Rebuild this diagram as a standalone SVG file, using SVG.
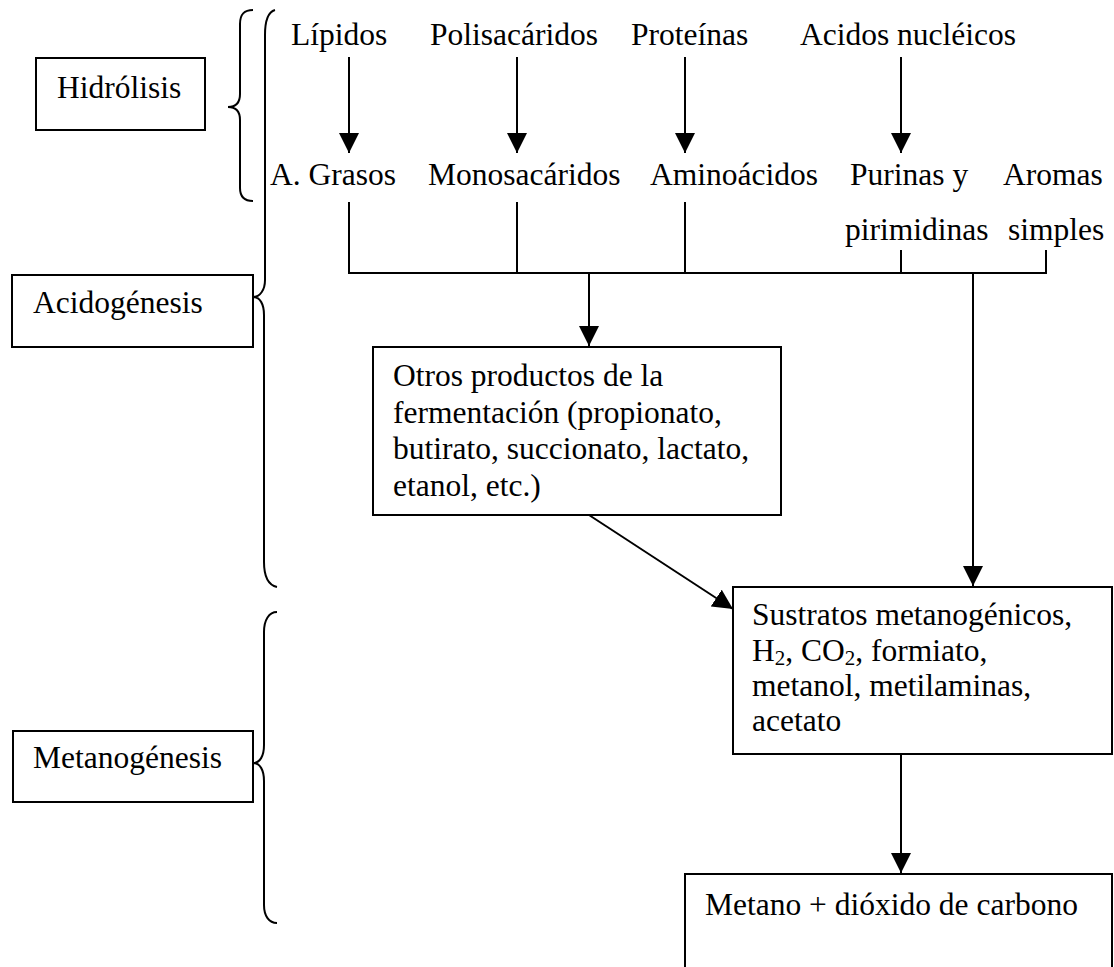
<svg xmlns="http://www.w3.org/2000/svg" width="1114" height="967" viewBox="0 0 1114 967">
  <defs>
    <marker id="arrow" viewBox="0 0 20 20" refX="20" refY="10" markerWidth="20" markerHeight="20" markerUnits="userSpaceOnUse" orient="auto">
      <path d="M0,0 L20,10 L0,20 Z" fill="#000"/>
    </marker>
    <style>
      text { font-family: "Liberation Serif", "Times New Roman", serif; font-size: 31.5px; fill: #000; }
      .box { fill: #fff; stroke: #000; stroke-width: 2; }
      .line { fill: none; stroke: #000; stroke-width: 2; }
      .arr { fill: none; stroke: #000; stroke-width: 2; marker-end: url(#arrow); }
      .brace { fill: none; stroke: #000; stroke-width: 2; }
      .sub { font-size: 21px; }
    </style>
  </defs>
  <rect width="1114" height="967" fill="#fff"/>

  <!-- stage labels and braces -->
  <g id="hidrolisis">
    <rect class="box" x="36" y="58" width="169" height="72"/>
    <text x="57" y="98">Hidrólisis</text>
    <path class="brace" d="M253,10 C244,10 240,14 240,24 L240,94 C240,103 236,107 228,107 C236,107 240,111 240,120 L240,188 C240,197 244,201 253,201"/>
  </g>
  <g id="acidogenesis">
    <rect class="box" x="12" y="275" width="241" height="72"/>
    <text x="33" y="313">Acidogénesis</text>
    <path class="brace" d="M275,10 C268,12 265,20 265,35 L265,280 C265,290 260,297 253,297 C260,297 264,304 264,315 L264,562 C264,577 268,585 277,587"/>
  </g>
  <g id="metanogenesis">
    <rect class="box" x="13" y="731" width="240" height="71"/>
    <text x="33" y="768">Metanogénesis</text>
    <path class="brace" d="M277,612 C269,612 264,620 264,632 L264,745 C264,756 260,763 253,763 C260,763 264,770 264,781 L264,905 C264,916 269,923 277,923"/>
  </g>

  <!-- polymers -->
  <g id="lipidos"><text x="291" y="45">Lípidos</text></g>
  <g id="polisacaridos"><text x="430" y="45">Polisacáridos</text></g>
  <g id="proteinas"><text x="631" y="45">Proteínas</text></g>
  <g id="acidos-nucleicos"><text x="800" y="45">Acidos nucléicos</text></g>

  <!-- monomers -->
  <g id="a-grasos"><text x="270" y="185">A. Grasos</text></g>
  <g id="monosacaridos"><text x="428" y="185">Monosacáridos</text></g>
  <g id="aminoacidos"><text x="650" y="185">Aminoácidos</text></g>
  <g id="purinas"><text x="850" y="185">Purinas y</text><text x="845" y="240">pirimidinas</text></g>
  <g id="aromas"><text x="1003" y="185">Aromas</text><text x="1008" y="240">simples</text></g>

  <!-- intermediate and final products -->
  <g id="otros-productos">
    <rect class="box" x="373" y="347" width="408" height="168"/>
    <text x="393" y="386">Otros productos de la</text>
    <text x="393" y="423">fermentación (propionato,</text>
    <text x="393" y="459">butirato, succionato, lactato,</text>
    <text x="393" y="496">etanol, etc.)</text>
  </g>
  <g id="sustratos">
    <rect class="box" x="733" y="587" width="379" height="167"/>
    <text x="752" y="625">Sustratos metanogénicos,</text>
    <text x="752" y="661">H<tspan class="sub" dy="4">2</tspan><tspan dy="-4">, CO</tspan><tspan class="sub" dy="4">2</tspan><tspan dy="-4">, formiato,</tspan></text>
    <text x="752" y="696">metanol, metilaminas,</text>
    <text x="752" y="731">acetato</text>
  </g>
  <g id="metano">
    <rect class="box" x="685" y="874" width="427" height="110"/>
    <text x="705" y="915">Metano + dióxido de carbono</text>
  </g>

  <!-- connectors -->
  <g id="connectors">
    <line class="arr" x1="349" y1="57" x2="349" y2="153"/>
    <line class="arr" x1="517" y1="57" x2="517" y2="153"/>
    <line class="arr" x1="685" y1="57" x2="685" y2="153"/>
    <line class="arr" x1="901" y1="57" x2="901" y2="153"/>
    <polyline class="line" points="349,202 349,273 1046,273 1046,250"/>
    <line class="line" x1="517" y1="202" x2="517" y2="273"/>
    <line class="line" x1="685" y1="202" x2="685" y2="273"/>
    <line class="line" x1="901" y1="250" x2="901" y2="273"/>
    <line class="arr" x1="589" y1="273" x2="589" y2="346"/>
    <line class="arr" x1="973" y1="273" x2="973" y2="586"/>
    <line class="arr" x1="589" y1="515" x2="733" y2="609"/>
    <line class="arr" x1="901" y1="754" x2="901" y2="873"/>
  </g>
</svg>
